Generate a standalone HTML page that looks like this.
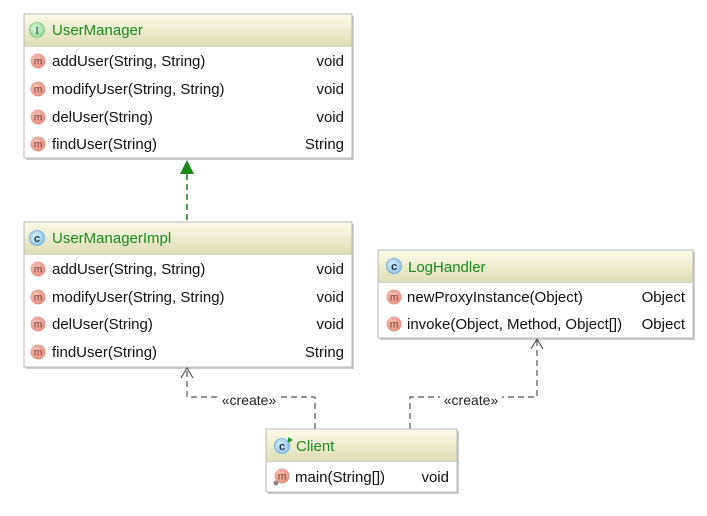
<!DOCTYPE html>
<html><head><meta charset="utf-8"><style>
html,body{margin:0;padding:0;background:#fff;}
svg{display:block;font-family:"Liberation Sans",sans-serif;}
.t{font-size:15px;fill:#111;}
.h{font-size:15px;fill:#1f8a1f;}
.c{font-size:14px;fill:#222;}
</style></head><body>
<svg width="707" height="516" viewBox="0 0 707 516" xmlns="http://www.w3.org/2000/svg">
<defs>
<linearGradient id="hg" x1="0" y1="0" x2="0" y2="1">
<stop offset="0" stop-color="#fbfbe9"/><stop offset="1" stop-color="#dcdcb6"/>
</linearGradient>
<radialGradient id="mg" cx="0.4" cy="0.4" r="0.7">
<stop offset="0" stop-color="#f6c4bc"/><stop offset="1" stop-color="#e58676"/>
</radialGradient>
<radialGradient id="cg" cx="0.4" cy="0.4" r="0.7">
<stop offset="0" stop-color="#d6ecfa"/><stop offset="1" stop-color="#8cc0e6"/>
</radialGradient>
<radialGradient id="ig" cx="0.4" cy="0.4" r="0.7">
<stop offset="0" stop-color="#d8f5d8"/><stop offset="1" stop-color="#8fd38f"/>
</radialGradient>
<g id="m"><circle r="7.5" fill="url(#mg)"/><text x="0" y="3.5" text-anchor="middle" font-size="10" fill="#7a2a20">m</text></g>
<g id="ci"><circle r="7.5" fill="url(#cg)" stroke="#6aa6d6" stroke-width="0.8"/><text x="0" y="4" text-anchor="middle" font-size="11" font-weight="bold" fill="#234">c</text></g>
</defs>

<rect x="26" y="16" width="328" height="144" fill="#ccc"/>
<rect x="26" y="224" width="328" height="145" fill="#ccc"/>
<rect x="380" y="252" width="315" height="88" fill="#ccc"/>
<rect x="268" y="431" width="191" height="63" fill="#ccc"/>

<rect x="24" y="14" width="328" height="144" fill="#fff" stroke="#b8b8b8"/>
<rect x="24.5" y="14.5" width="327" height="32" fill="url(#hg)"/>
<line x1="24" y1="46.5" x2="352" y2="46.5" stroke="#d0d0d0"/>
<circle cx="37" cy="30" r="7.5" fill="url(#ig)" stroke="#7cc27c" stroke-width="0.8"/>
<text x="37" y="34" text-anchor="middle" font-size="10" fill="#235" font-family="Liberation Serif">I</text>
<text class="h" x="52" y="35">UserManager</text>
<use href="#m" x="38" y="61"/><text class="t" x="52" y="66">addUser(String, String)</text><text class="t" x="344" y="66" text-anchor="end">void</text>
<use href="#m" x="38" y="89"/><text class="t" x="52" y="94">modifyUser(String, String)</text><text class="t" x="344" y="94" text-anchor="end">void</text>
<use href="#m" x="38" y="117"/><text class="t" x="52" y="122">delUser(String)</text><text class="t" x="344" y="122" text-anchor="end">void</text>
<use href="#m" x="38" y="144"/><text class="t" x="52" y="149">findUser(String)</text><text class="t" x="344" y="149" text-anchor="end">String</text>

<line x1="187" y1="174" x2="187" y2="222" stroke="#1a7a1a" stroke-width="1.5" stroke-dasharray="6,4"/>
<polygon points="187,160 180,174 194,174" fill="#1a8a1a"/>

<rect x="24" y="222" width="328" height="145" fill="#fff" stroke="#b8b8b8"/>
<rect x="24.5" y="222.5" width="327" height="32" fill="url(#hg)"/>
<line x1="24" y1="254.5" x2="352" y2="254.5" stroke="#d0d0d0"/>
<use href="#ci" x="37" y="238"/>
<text class="h" x="52" y="243">UserManagerImpl</text>
<use href="#m" x="38" y="269"/><text class="t" x="52" y="274">addUser(String, String)</text><text class="t" x="344" y="274" text-anchor="end">void</text>
<use href="#m" x="38" y="297"/><text class="t" x="52" y="302">modifyUser(String, String)</text><text class="t" x="344" y="302" text-anchor="end">void</text>
<use href="#m" x="38" y="324"/><text class="t" x="52" y="329">delUser(String)</text><text class="t" x="344" y="329" text-anchor="end">void</text>
<use href="#m" x="38" y="352"/><text class="t" x="52" y="357">findUser(String)</text><text class="t" x="344" y="357" text-anchor="end">String</text>

<rect x="378" y="250" width="315" height="88" fill="#fff" stroke="#b8b8b8"/>
<rect x="378.5" y="250.5" width="314" height="32" fill="url(#hg)"/>
<line x1="378" y1="282.5" x2="693" y2="282.5" stroke="#d0d0d0"/>
<use href="#ci" x="394" y="266"/>
<text class="h" x="408" y="272">LogHandler</text>
<use href="#m" x="394" y="297"/><text class="t" x="407" y="302">newProxyInstance(Object)</text><text class="t" x="685" y="302" text-anchor="end">Object</text>
<use href="#m" x="394" y="324"/><text class="t" x="407" y="329">invoke(Object, Method, Object[])</text><text class="t" x="685" y="329" text-anchor="end">Object</text>

<g fill="none" stroke="#555" stroke-width="1.2">
<polyline points="315,429 315,397 187,397 187,368" stroke-dasharray="6,4"/>
<polyline points="181,378 187,368 193,378"/>
<polyline points="410,429 410,397 537,397 537,339" stroke-dasharray="6,4"/>
<polyline points="531,349 537,339 543,349"/>
</g>
<rect x="218" y="391" width="62" height="15" fill="#fff"/>
<text class="c" x="249" y="405" text-anchor="middle">«create»</text>
<rect x="440" y="391" width="62" height="15" fill="#fff"/>
<text class="c" x="471" y="405" text-anchor="middle">«create»</text>

<rect x="266" y="429" width="191" height="63" fill="#fff" stroke="#b8b8b8"/>
<rect x="266.5" y="429.5" width="190" height="32" fill="url(#hg)"/>
<line x1="266" y1="461.5" x2="457" y2="461.5" stroke="#d0d0d0"/>
<use href="#ci" x="282" y="446"/>
<polygon points="288,437 293,440 288,443" fill="#2a9a2a"/>
<text class="h" x="296" y="451">Client</text>
<use href="#m" x="282" y="476"/>
<circle cx="276" cy="483" r="2.5" fill="#888"/>
<text class="t" x="295" y="482">main(String[])</text><text class="t" x="449" y="482" text-anchor="end">void</text>
</svg>
</body></html>
